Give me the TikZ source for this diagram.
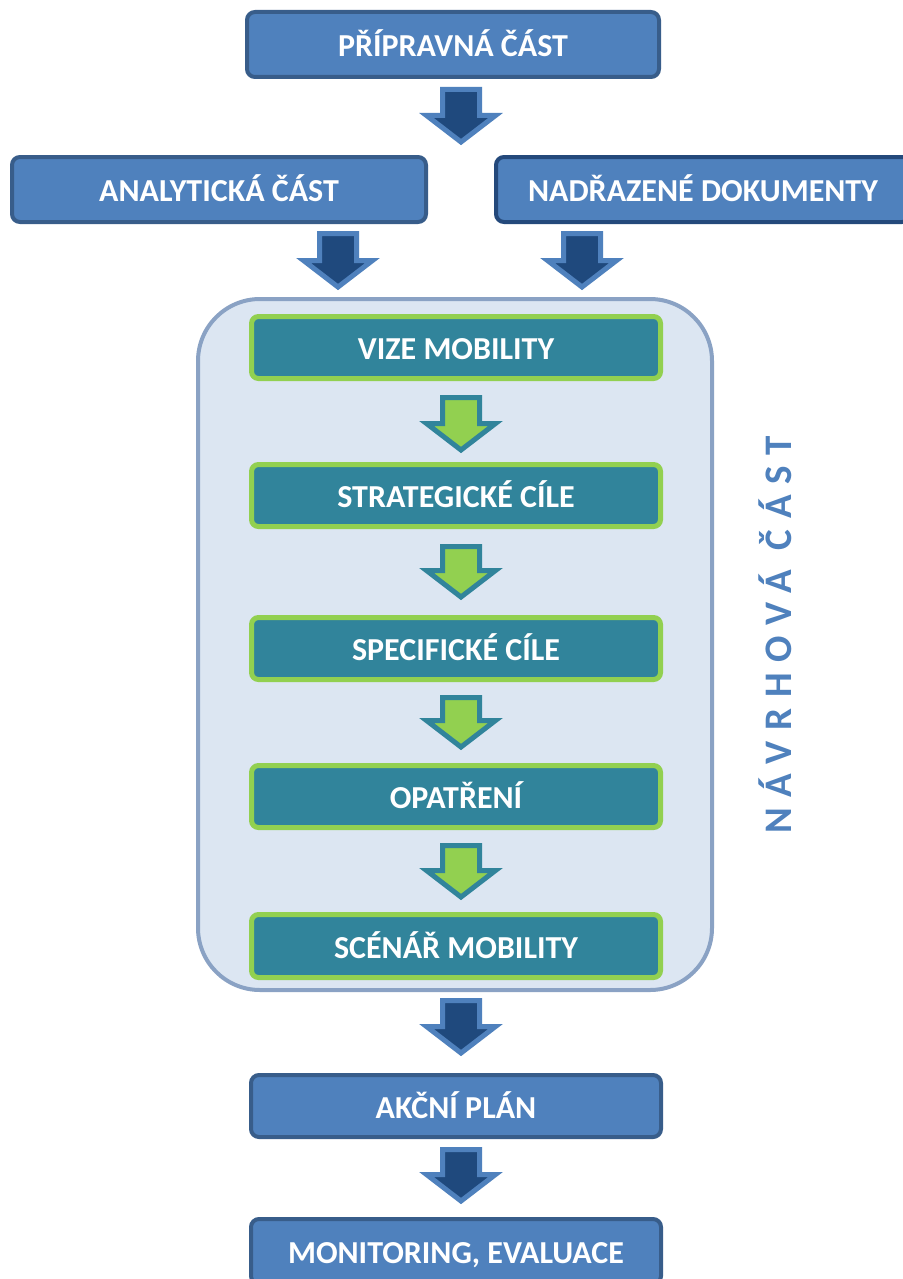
\documentclass[tikz,border=0pt]{standalone}
\usepackage{fontspec}
\setmainfont{Carlito}
\usetikzlibrary{calc}
\definecolor{boxblue}{HTML}{4F81BD}
\definecolor{boxedge}{HTML}{385D8A}
\definecolor{darkedge}{HTML}{24497B}
\definecolor{arrowfill}{HTML}{1F497D}
\definecolor{mteal}{HTML}{31849B}
\definecolor{lgreen}{HTML}{92D050}
\definecolor{contfill}{HTML}{DCE6F2}
\definecolor{contedge}{HTML}{8AA2C4}
\newcommand\blockarrow[3]{%
  \draw[#1] let \p1=#2, \p2=#3 in
    (\x2-18.5pt,\y1-2.5pt) -- (\x2+18.5pt,\y1-2.5pt) -- (\x2+18.5pt,\y2+29.5pt)
    -- (\x2+34.5pt,\y2+29.5pt) -- (\x2,\y2+3pt) -- (\x2-34.5pt,\y2+29.5pt)
    -- (\x2-18.5pt,\y2+29.5pt) -- cycle;}
\begin{document}
\begin{tikzpicture}[x=1pt,y=-1pt,
  boxtext/.style={text=white, font=\fontsize{32}{32}\selectfont\bfseries,
    text height=24pt, text depth=0pt, inner sep=0pt},
  bluebox/.style={boxtext, draw=boxedge, fill=boxblue, line width=4pt,
    rounded corners=8pt, minimum width=412pt, minimum height=65pt},
  greenbox/.style={boxtext, draw=lgreen, fill=mteal, line width=5pt,
    rounded corners=7pt, minimum width=409pt, minimum height=62pt},
  container/.style={draw=contedge, fill=contfill, line width=4pt,
    rounded corners=62pt, minimum width=514pt, minimum height=691pt, inner sep=0pt},
  bluearrow/.style={draw=boxblue, fill=arrowfill, line width=5pt, line join=miter},
  greenarrow/.style={draw=mteal, fill=lgreen, line width=5pt, line join=miter},
  sidetext/.style={text=boxblue, inner sep=0pt,
    font=\fontsize{39}{39}\selectfont\bfseries\addfontfeature{LetterSpace=28}}]
\useasboundingbox (0,0) rectangle (902,1279);
\fill[white] (0,0) rectangle (902,1279);

\node[bluebox] (prip) at (453,44.5) {PŘÍPRAVNÁ ČÁST};
\node[bluebox, minimum width=414pt] (anal) at (219,189.5) {ANALYTICKÁ ČÁST};
\node[bluebox, draw=darkedge, minimum width=414pt] (nadr) at (703,189.5) {NADŘAZENÉ DOKUMENTY};

\node[container] (cont) at (455,644.5) {};
\node[greenbox] (vize) at (456,347.5) {VIZE MOBILITY};
\node[greenbox] (strat) at (456,495.5) {STRATEGICKÉ CÍLE};
\node[greenbox] (spec) at (456,648.5) {SPECIFICKÉ CÍLE};
\node[greenbox] (opat) at (456,796.5) {OPATŘENÍ};
\node[greenbox, minimum height=63pt] (scen) at (456,946) {SCÉNÁŘ MOBILITY};

\node[bluebox, minimum width=410pt, minimum height=62pt] (akcni) at (456,1106) {AKČNÍ PLÁN};
\node[bluebox, minimum width=410pt] (monit) at (456,1251.5) {MONITORING, EVALUACE};

\node[sidetext, rotate=90, anchor=base] (side) at (791,635) {NÁVRHOVÁ ČÁST};

\coordinate (ax) at (461,0);
\coordinate (la) at (338,0);
\coordinate (ra) at (582,0);

\blockarrow{bluearrow}{($(ax |- prip.south)+(0,8)$)}{($(ax |- anal.north)+(0,-10)$)}
\blockarrow{bluearrow}{($(la |- anal.south)+(0,7)$)}{($(la |- cont.north)+(0,-7)$)}
\blockarrow{bluearrow}{($(ra |- nadr.south)+(0,7)$)}{($(ra |- cont.north)+(0,-7)$)}

\blockarrow{greenarrow}{($(ax |- vize.south)+(0,14)$)}{($(ax |- strat.north)+(0,-9)$)}
\blockarrow{greenarrow}{($(ax |- strat.south)+(0,15)$)}{($(ax |- spec.north)+(0,-15)$)}
\blockarrow{greenarrow}{($(ax |- spec.south)+(0,13)$)}{($(ax |- opat.north)+(0,-13)$)}
\blockarrow{greenarrow}{($(ax |- opat.south)+(0,13)$)}{($(ax |- scen.north)+(0,-12)$)}

\blockarrow{bluearrow}{($(ax |- cont.south)+(0,6)$)}{($(ax |- akcni.north)+(0,-17)$)}
\blockarrow{bluearrow}{($(ax |- akcni.south)+(0,8)$)}{($(ax |- monit.north)+(0,-13)$)}
\end{tikzpicture}
\end{document}
